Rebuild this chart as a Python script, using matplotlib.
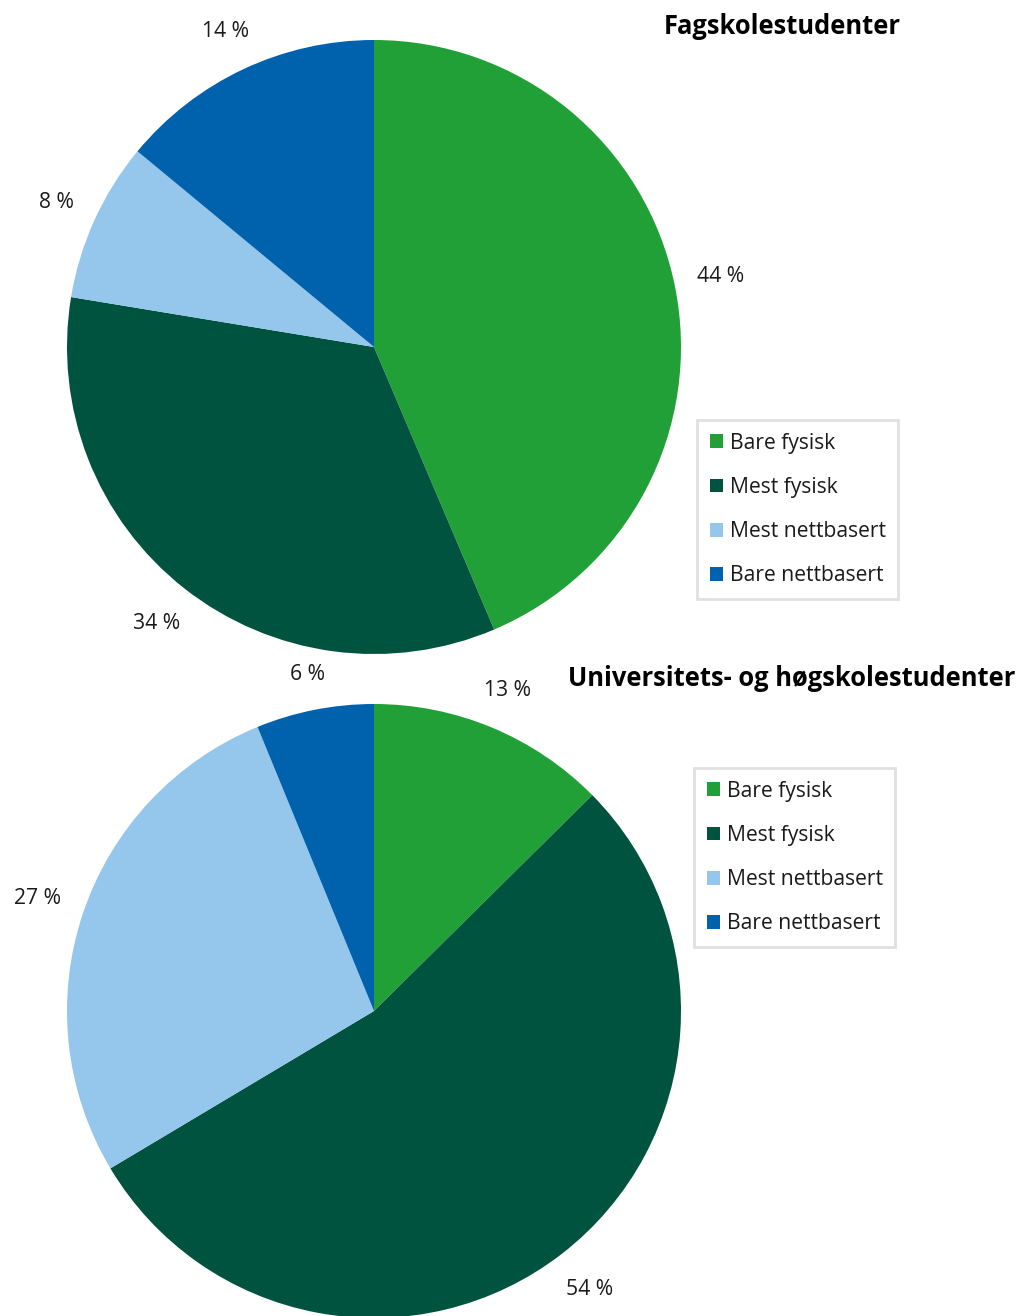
import matplotlib
matplotlib.use("Agg")
import numpy as np
import matplotlib.pyplot as plt
from matplotlib.patches import Patch

plt.rcParams['font.family'] = ['Open Sans', 'DejaVu Sans']

categories = ["Bare fysisk", "Mest fysisk", "Mest nettbasert", "Bare nettbasert"]
colors = ["#21A038", "#00543F", "#95C6EB", "#0062AD"]

title_fag = "Fagskolestudenter"
values_fag = [43.6, 34.0, 8.4, 14.0]
title_uni = "Universitets- og høgskolestudenter"
values_uni = [12.6, 53.9, 27.4, 6.2]

W, H = 1019, 1316
fig = plt.figure(figsize=(W / 100, H / 100), dpi=100)
ax = fig.add_axes([0, 0, 1, 1])
ax.set_xlim(0, W)
ax.set_ylim(0, H)
ax.set_aspect('equal')
ax.axis('off')

FS = 15.2
FS_TITLE = 18.4
TXT = "#1a1a1a"
R = 307
GAP = 22


def draw(values, center, title, title_xy, legend_xy):
    wedges, texts = ax.pie(values, colors=colors, startangle=90, counterclock=False,
                           center=center, radius=R,
                           labels=[f"{v:.0f} %" for v in values], labeldistance=1.15,
                           textprops=dict(fontsize=FS, color=TXT, ha='center', va='center'),
                           wedgeprops=dict(linewidth=0))
    fig.canvas.draw()
    renderer = fig.canvas.get_renderer()
    for w, t in zip(wedges, texts):
        ang = np.deg2rad((w.theta1 + w.theta2) / 2)
        c, s = np.cos(ang), np.sin(ang)
        bb = t.get_window_extent(renderer)
        d = R + GAP + bb.width / 2 * abs(c) + bb.height / 2 * abs(s)
        t.set_position((center[0] + d * c, center[1] + d * s))
    ax.text(title_xy[0], title_xy[1], title, fontsize=FS_TITLE, fontweight='bold',
            ha='center', va='center', color='#000000')
    handles = [Patch(facecolor=c, edgecolor='none') for c in colors]
    leg = ax.legend(handles, categories, loc='upper left',
                    bbox_to_anchor=legend_xy, bbox_transform=ax.transData,
                    fontsize=FS, frameon=True, fancybox=False,
                    edgecolor='#d9d9d9', handlelength=0.62, handleheight=0.62,
                    handletextpad=0.33, labelspacing=1.1, borderpad=0.6,
                    borderaxespad=0)
    leg.get_frame().set_linewidth(2)
    for t in leg.get_texts():
        t.set_color(TXT)
    return leg


leg1 = draw(values_fag, (374, H - 347), title_fag, (782, H - 27), (697, H - 420))
ax.add_artist(leg1)
draw(values_uni, (374, H - 1011), title_uni, (792, H - 679), (694, H - 768))
ax.set_xlim(0, W)
ax.set_ylim(0, H)

fig.savefig("out.png", dpi=100)
